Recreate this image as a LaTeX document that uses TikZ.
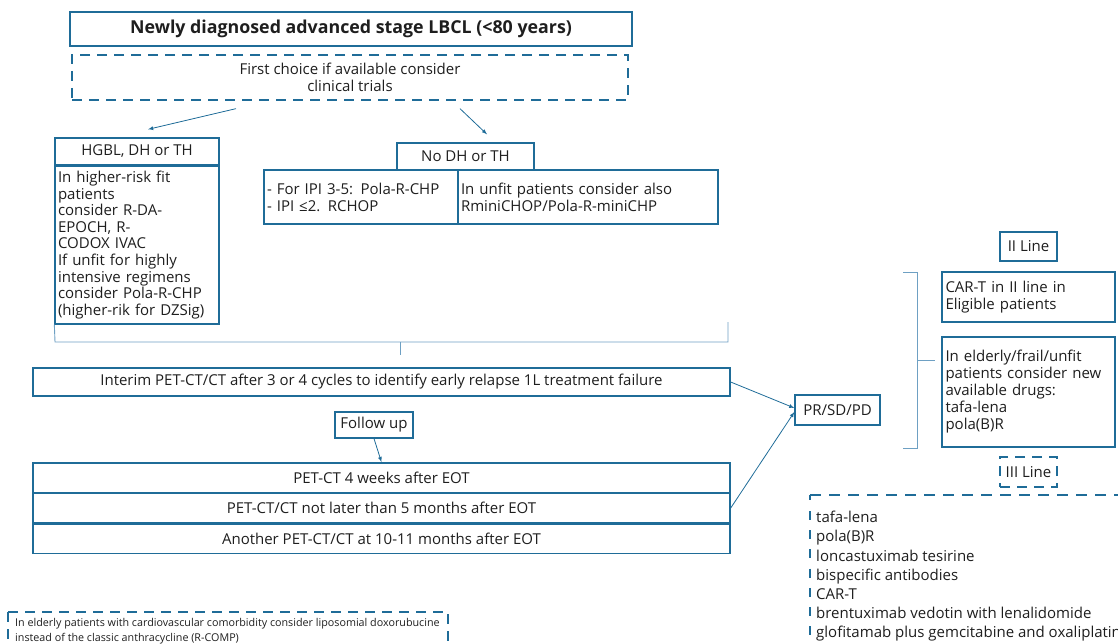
\documentclass[tikz,border=0pt]{standalone}
\usepackage{fontspec}
\setmainfont{Open Sans}
\usetikzlibrary{positioning}
\definecolor{boxblue}{RGB}{31,108,152}
\definecolor{lineblue}{RGB}{110,160,195}
\definecolor{txt}{RGB}{30,30,30}

\begin{document}
\begin{tikzpicture}[x=1pt,y=-1pt,
font=\fontsize{15}{17}\selectfont, text=txt,
box/.style={rectangle,draw=boxblue,line width=1.3pt,inner sep=3pt,align=center},
listbox/.style={rectangle,draw=boxblue,line width=1.3pt,inner xsep=3pt,inner ysep=4pt,align=left},
dbox/.style={rectangle,draw=boxblue,line width=1.3pt,dash pattern=on 10pt off 7pt,align=center},
paths/.style={draw=boxblue,line width=0.8pt,-latex},
links/.style={draw=lineblue,line width=0.9pt}
]
\useasboundingbox (0,0) rectangle (1118,644);
\clip (0,0) rectangle (1118,644);

%create nodes
\node[box,minimum width=562,minimum height=34,font=\bfseries\fontsize{17.8}{20}\selectfont] (title) at (351,29) {Newly diagnosed advanced stage LBCL (<80 years)};
\node[dbox,minimum width=556,minimum height=45] (trials) at (350,77.5) {First choice if available consider\\clinical trials};

\node[box,minimum width=164,minimum height=27] (hgblh) at (137,151.5) {HGBL, DH or TH};
\node[listbox,minimum width=164,minimum height=158,text width=158,font=\fontsize{15}{16.6}\selectfont] (hgblb) at (137,245) {In higher-risk fit\\patients\\consider R-DA-\\EPOCH, R-\\CODOX IVAC\\If unfit for highly\\intensive regimens\\consider Pola-R-CHP\\(higher-rik for DZSig)};

\node[box,minimum width=137,minimum height=27] (nodh) at (465.5,156.5) {No DH or TH};
\node[listbox,minimum width=194,minimum height=54,text width=188] (ipi) at (361,197) {- For IPI 3-5: Pola-R-CHP\\- IPI ≤2. RCHOP};
\node[listbox,minimum width=260,minimum height=54,text width=254] (unfit) at (588,197) {In unfit patients consider also\\RminiCHOP/Pola-R-miniCHP};

\node[box,minimum width=697,minimum height=28] (interim) at (381.5,382) {Interim PET-CT/CT after 3 or 4 cycles to identify early relapse 1L treatment failure};
\node[box,minimum width=78,minimum height=26] (follow) at (374,425) {Follow up};
\node[box,minimum width=697,minimum height=29.3] (pet1) at (381.5,477.5) {PET-CT 4 weeks after EOT};
\node[box,minimum width=697,minimum height=29.3,below=0pt of pet1] (pet2) {PET-CT/CT not later than 5 months after EOT};
\node[box,minimum width=697,minimum height=29.3,below=0pt of pet2] (pet3) {Another PET-CT/CT at 10-11 months after EOT};

\node[box,minimum width=85,minimum height=30] (pr) at (837.5,410) {PR/SD/PD};

\node[box,minimum width=57,minimum height=29] (line2) at (1028.5,246.5) {II Line};
\node[listbox,minimum width=173,minimum height=50,text width=166] (cart) at (1028.5,297) {CAR-T in II line in\\Eligible patients};
\node[listbox,minimum width=173,minimum height=110,text width=166] (eld) at (1028.5,392) {In elderly/frail/unfit\\patients consider new\\available drugs:\\tafa-lena\\pola(B)R};
\node[dbox,minimum width=57,minimum height=30] (line3) at (1028.5,472) {III Line};

\node[anchor=north west,align=left,inner sep=0pt,font=\fontsize{15}{19.2}\selectfont] (drugs) at (816,511) {tafa-lena\\pola(B)R\\loncastuximab tesirine\\bispecific antibodies\\CAR-T\\brentuximab vedotin with lenalidomide\\glofitamab plus gemcitabine and oxaliplatin};

\node[anchor=north west,align=left,inner sep=0pt,font=\fontsize{10.75}{14.8}\selectfont] (note) at (15,618) {In elderly patients with cardiovascular comorbidity consider liposomial doxorubucine\\instead of the classic anthracycline (R-COMP)};

%dashed frames cut by the border
\coordinate (lt) at (810,495);
\coordinate (nt) at (8,612);
\draw[boxblue,line width=1.3pt,dash pattern=on 11pt off 8pt] (lt) -- ++(330,0);
\draw[boxblue,line width=1.3pt] (lt) -- ++(0,5);
\draw[boxblue,line width=1.3pt,dash pattern=on 9pt off 10.2pt] ([yshift=-16pt]lt) -- ++(0,150);
\draw[boxblue,line width=1.3pt,dash pattern=on 10pt off 7pt] (nt) -- ++(0,40);
\draw[boxblue,line width=1.3pt,dash pattern=on 10pt off 7pt] (nt) -- ++(440,0) -- ++(0,40);

%draw paths
\draw[paths] ([shift={(-114,8)}]trials.south) -- ([shift={(11,-8)}]hgblh.north);
\draw[paths] ([shift={(110,8)}]trials.south) -- ([shift={(21.5,-8)}]nodh.north);
\draw[paths] (follow.south) -- (pet1.north);
\draw[paths] (interim.east) -- ([yshift=2pt]pr.west);
\draw[paths] (pet2.east) -- ([yshift=-2pt]pr.west);

%join of first line
\coordinate (jl) at (55,342);
\coordinate (jm) at (400,342);
\coordinate (jr) at (728,342);
\draw[links] (hgblb.south west) -- (jl) -- (jr) -- ++(0,-20);
\draw[links] (jm) -- ++(0,13);

%bracket of II line
\coordinate (brt) at (903,272);
\coordinate (brb) at (903,448);
\coordinate (brm) at (917,360);
\draw[links] (brt) -- ++(14,0) |- (brb);
\draw[links] (brm) -- ++(18,0);

\end{tikzpicture}
\end{document}
